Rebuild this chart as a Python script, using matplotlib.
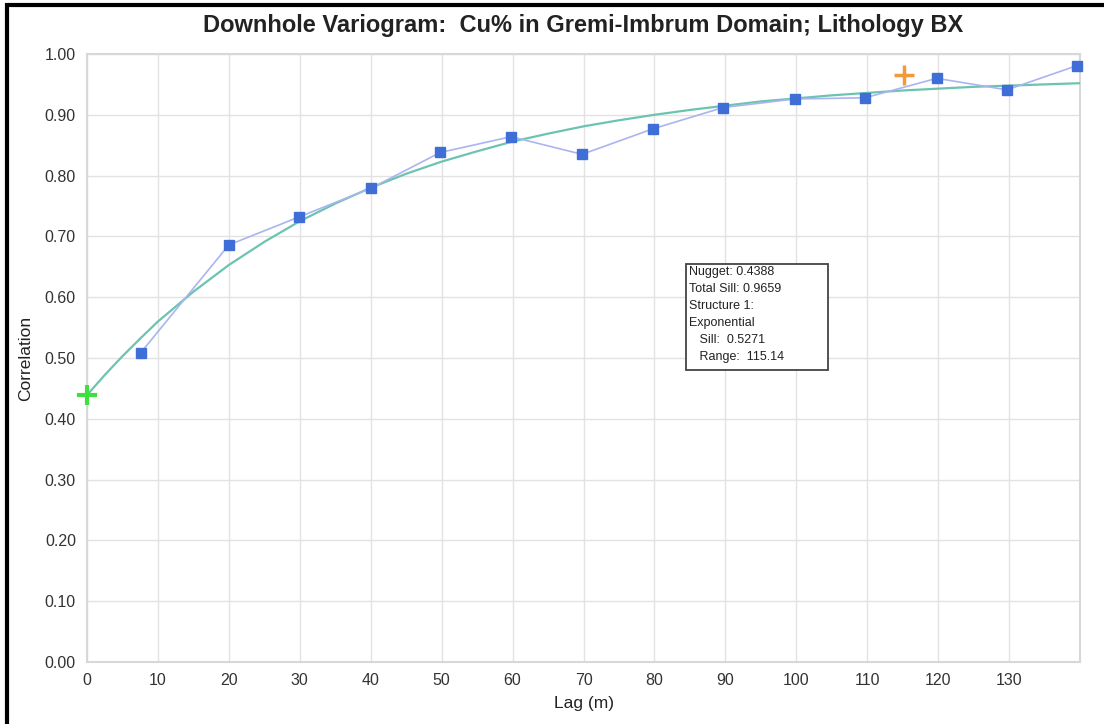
import matplotlib.pyplot as plt
from matplotlib.patches import Rectangle

plt.rcParams['font.family'] = ['Liberation Sans', 'DejaVu Sans']

# experimental variogram points
lag = [7.6, 20.0, 29.9, 40.0, 49.8, 59.8, 69.8, 79.8, 89.7, 99.8, 109.7, 119.8, 129.7, 139.6]
corr = [0.509, 0.686, 0.732, 0.779, 0.838, 0.864, 0.835, 0.877, 0.912, 0.926, 0.928, 0.960, 0.941, 0.981]

# fitted model curve
model_lag = [0, 2.5, 5, 7.5, 10, 15, 20, 25, 30, 35, 40, 45, 50, 55, 60, 65, 70, 75,
             80, 85, 90, 95, 100, 105, 110, 115, 120, 125, 130, 135, 140]
model_corr = [0.439, 0.472, 0.503, 0.532, 0.560, 0.609, 0.653, 0.691, 0.725, 0.754,
              0.780, 0.803, 0.823, 0.840, 0.856, 0.869, 0.881, 0.891, 0.900, 0.908,
              0.915, 0.922, 0.927, 0.932, 0.936, 0.940, 0.943, 0.946, 0.948, 0.950, 0.952]

nugget_pt = (0, 0.4388)
range_pt = (115.14, 0.9659)

xticks = list(range(0, 140, 10))
yticks = [i / 10 for i in range(0, 11)]

info = ("Nugget: 0.4388\nTotal Sill: 0.9659\nStructure 1:\nExponential\n"
        "   Sill:  0.5271\n   Range:  115.14")

fig = plt.figure(figsize=(11.04, 7.24), dpi=100)
ax = fig.add_axes([87 / 1104, 1 - 662 / 724, (1080 - 87) / 1104, (662 - 54) / 724])

ax.plot(model_lag, model_corr, color="#6cc4b0", lw=1.6, zorder=3)
ax.plot(lag, corr, color="#aab4f0", lw=1.2, zorder=4)
ax.plot(lag, corr, ls="none", marker="s", ms=7, color="#3f6fd6", zorder=5, clip_on=False)
ax.plot(*nugget_pt, marker="+", ms=14, mew=3, color="#3ee03e", zorder=6, clip_on=False)
ax.plot(*range_pt, marker="+", ms=14, mew=2.5, color="#f29a3a", zorder=6)

ax.set_xlim(0, 140)
ax.set_ylim(0, 1.0)
ax.set_xticks(xticks)
ax.set_yticks(yticks)
ax.set_yticklabels([f"{v:.2f}" for v in yticks])
ax.grid(True, color="#e2e2e2", lw=1)
ax.set_axisbelow(True)
for s in ax.spines.values():
    s.set_color("#d8d8d8")
    s.set_linewidth(1.5)
ax.tick_params(length=0, labelsize=11.5, labelcolor="#333333", pad=8)

ax.set_title("Downhole Variogram:  Cu% in Gremi-Imbrum Domain; Lithology BX",
             fontsize=17, fontweight="bold", color="#222222", pad=16)
ax.set_xlabel("Lag (m)", fontsize=12.5, color="#222222", labelpad=6)
ax.set_ylabel("Correlation", fontsize=12.5, color="#222222", labelpad=8)

# info box
ax.add_patch(Rectangle((0.603, 0.480), 0.143, 0.1746, transform=ax.transAxes,
                       fc="white", ec="#444444", lw=1.3, zorder=7))
ax.text(0.606, 0.651, info, transform=ax.transAxes, fontsize=9, va="top", ha="left",
        linespacing=1.55, color="#222222", zorder=8)

# black frame around the image
fig.add_artist(Rectangle((7 / 1104, -0.01), 1.02, 1 - 5 / 724 + 0.01, transform=fig.transFigure,
                         fill=False, ec="black", lw=3))

fig.savefig("out.png", dpi=100)
